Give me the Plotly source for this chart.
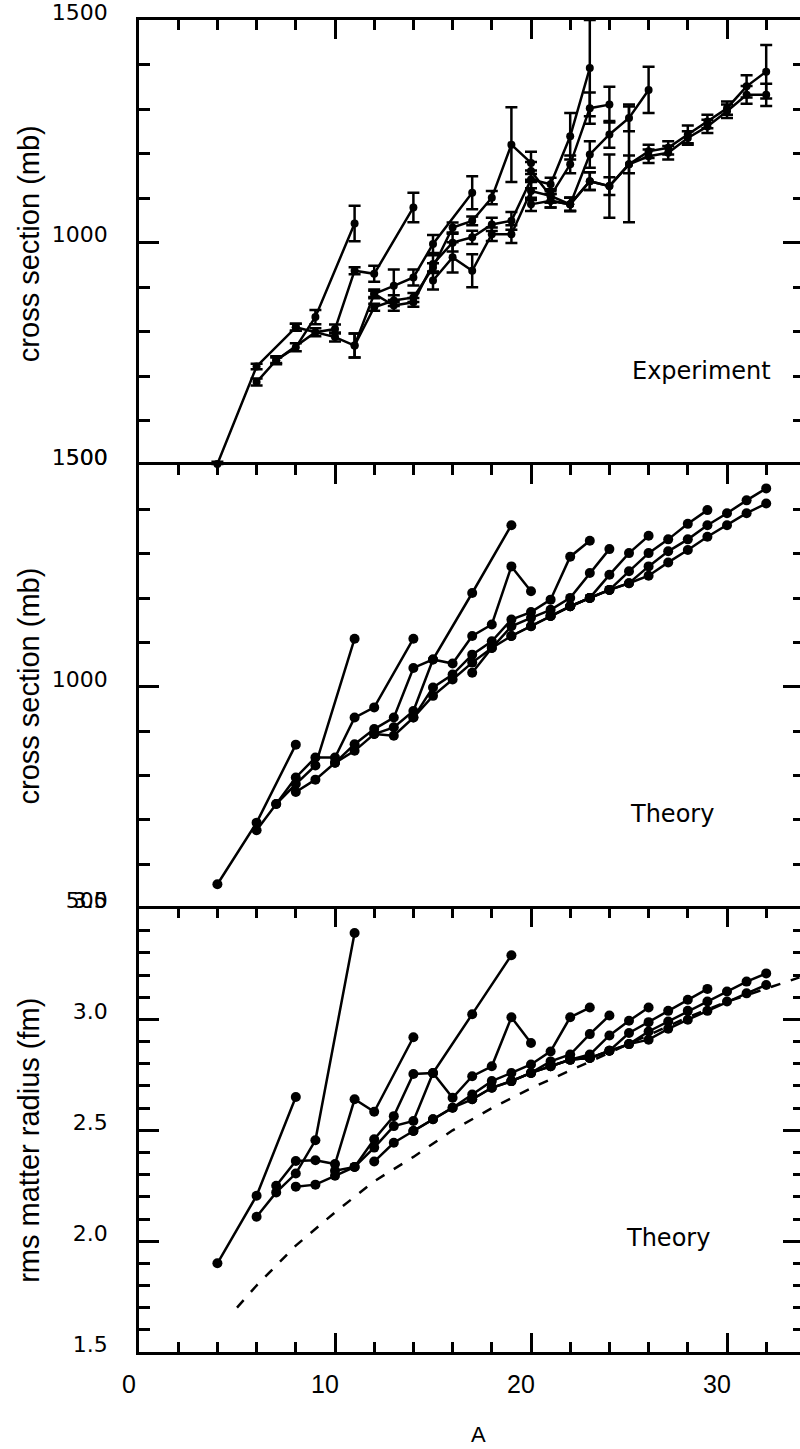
import plotly.graph_objects as go

# ---------------- Experiment (interaction cross sections, mb) ----------------
EXP_HE_A = [4, 6, 8];            EXP_HE_S = [503, 722, 810];            EXP_HE_E = [5, 6, 8]
EXP_LI_A = [6, 7, 8, 9, 11];     EXP_LI_S = [687, 736, 765, 833, 1043]; EXP_LI_E = [8, 6, 9, 16, 40]
EXP_BE_A = [7, 9, 10, 11, 12, 14]
EXP_BE_S = [736, 799, 806, 937, 930, 1079]
EXP_BE_E = [9, 9, 10, 8, 18, 33]
EXP_B_A = [8, 10, 11, 12, 13, 14, 15, 17]
EXP_B_S = [810, 788, 769, 885, 903, 922, 997, 1112]
EXP_B_E = [8, 10, 27, 7, 37, 18, 20, 37]
EXP_C_A = [11, 12, 13, 14, 15, 16, 17, 18, 19, 20]
EXP_C_S = [769, 855, 870, 877, 944, 1034, 1049, 1101, 1220, 1179]
EXP_C_E = [27, 8, 12, 10, 10, 11, 10, 15, 84, 25]
EXP_N_A = [12, 13, 14, 15, 16, 17, 18, 19, 20, 21, 22, 23]
EXP_N_S = [885, 859, 866, 952, 1000, 1012, 1041, 1049, 1142, 1131, 1239, 1392]
EXP_N_E = [10, 12, 10, 20, 20, 15, 15, 20, 20, 15, 52, 108]
EXP_O_A = [15, 16, 17, 18, 19, 20, 21, 22, 23, 24]
EXP_O_S = [915, 967, 937, 1019, 1019, 1116, 1105, 1176, 1302, 1310]
EXP_O_E = [20, 34, 37, 15, 20, 20, 15, 20, 35, 40]
EXP_F_A = [20, 21, 22, 23, 24, 25, 26]
EXP_F_S = [1161, 1105, 1086, 1198, 1243, 1280, 1343]
EXP_F_E = [20, 15, 15, 30, 30, 30, 52]
EXP_NE_A = [20, 21, 22, 23, 24, 25, 26, 27, 28, 29, 30, 31, 32]
EXP_NE_S = [1086, 1094, 1086, 1138, 1127, 1176, 1205, 1213, 1243, 1272, 1302, 1351, 1384]
EXP_NE_E = [15, 15, 15, 20, 71, 20, 15, 15, 20, 15, 15, 25, 60]
EXP_NA_A = [21, 22, 23, 24, 25, 26, 27, 28, 29, 30, 31, 32]
EXP_NA_S = [1094, 1086, 1138, 1127, 1176, 1194, 1202, 1235, 1261, 1295, 1332, 1332]
EXP_NA_E = [15, 15, 20, 20, 130, 15, 15, 15, 15, 15, 20, 25]

# ---------------- Theory (cross sections, mb) ----------------
TH_HE_A = [4, 6, 8];                  TH_HE_S = [555, 694, 870]
TH_LI_A = [6, 7, 8, 9, 11];           TH_LI_S = [677, 736, 781, 823, 1109]
TH_BE_A = [7, 8, 9, 10, 11, 12, 14];  TH_BE_S = [736, 796, 841, 841, 931, 954, 1109]
TH_B_A = [8, 9, 10, 11, 12, 13, 14, 15, 17, 19]
TH_B_S = [763, 791, 829, 871, 905, 931, 1043, 1062, 1212, 1365]
TH_C_A = [10, 11, 12, 13, 14, 15, 16, 17, 18, 19, 20]
TH_C_S = [829, 856, 894, 909, 946, 1062, 1053, 1115, 1141, 1272, 1216]
TH_N_A = [12, 13, 14, 15, 16, 17, 18, 19, 20, 21, 22, 23]
TH_N_S = [894, 890, 931, 999, 1028, 1073, 1103, 1152, 1169, 1197, 1294, 1330]
TH_O_A = [14, 15, 16, 17, 18, 19, 20, 21, 22, 23, 24]
TH_O_S = [931, 980, 1017, 1055, 1088, 1137, 1156, 1174, 1201, 1257, 1311]
TH_F_A = [17, 18, 19, 20, 21, 22, 23, 24, 25, 26]
TH_F_S = [1032, 1088, 1115, 1137, 1160, 1182, 1201, 1253, 1302, 1341]
TH_NE_A = [19, 20, 21, 22, 23, 24, 25, 26, 27, 28, 29]
TH_NE_S = [1115, 1137, 1160, 1182, 1201, 1219, 1261, 1302, 1333, 1368, 1399]
TH_NA_A = [21, 22, 23, 24, 25, 26, 27, 28, 29, 30, 31, 32]
TH_NA_S = [1160, 1182, 1201, 1219, 1234, 1272, 1306, 1333, 1365, 1392, 1421, 1448]
TH_MG_A = [22, 23, 24, 25, 26, 27, 28, 29, 30, 31, 32]
TH_MG_S = [1182, 1201, 1219, 1234, 1251, 1281, 1309, 1339, 1365, 1392, 1414]

# ---------------- Theory (rms matter radius, fm) ----------------
R_HE_A = [4, 6, 8];                  R_HE = [1.90, 2.205, 2.65]
R_LI_A = [6, 7, 8, 9, 11];           R_LI = [2.11, 2.22, 2.305, 2.455, 3.39]
R_BE_A = [7, 8, 9, 10, 11, 12, 14];  R_BE = [2.25, 2.362, 2.365, 2.348, 2.64, 2.584, 2.92]
R_B_A = [8, 9, 10, 11, 12, 13, 14, 15, 17, 19]
R_B = [2.246, 2.255, 2.295, 2.335, 2.46, 2.564, 2.754, 2.759, 3.024, 3.29]
R_C_A = [10, 11, 12, 13, 14, 15, 16, 17, 18, 19, 20]
R_C = [2.318, 2.335, 2.422, 2.519, 2.542, 2.759, 2.647, 2.744, 2.789, 3.01, 2.894]
R_N_A = [12, 13, 14, 15, 16, 17, 18, 19, 20, 21, 22, 23]
R_N = [2.359, 2.444, 2.497, 2.55, 2.602, 2.662, 2.722, 2.759, 2.797, 2.856, 3.01, 3.054]
R_O_A = [14, 15, 16, 17, 18, 19, 20, 21, 22, 23, 24]
R_O = [2.497, 2.55, 2.602, 2.64, 2.692, 2.722, 2.759, 2.811, 2.842, 2.934, 3.018]
R_F_A = [17, 18, 19, 20, 21, 22, 23, 24, 25, 26]
R_F = [2.64, 2.692, 2.722, 2.759, 2.789, 2.819, 2.842, 2.928, 2.994, 3.054]
R_NE_A = [19, 20, 21, 22, 23, 24, 25, 26, 27, 28, 29]
R_NE = [2.722, 2.759, 2.789, 2.819, 2.826, 2.859, 2.939, 2.988, 3.039, 3.089, 3.138]
R_NA_A = [21, 22, 23, 24, 25, 26, 27, 28, 29, 30, 31, 32]
R_NA = [2.789, 2.819, 2.826, 2.859, 2.889, 2.946, 2.991, 3.039, 3.081, 3.126, 3.171, 3.208]
R_MG_A = [22, 23, 24, 25, 26, 27, 28, 29, 30, 31, 32]
R_MG = [2.819, 2.826, 2.859, 2.889, 2.909, 2.958, 2.999, 3.039, 3.081, 3.118, 3.156]

# dashed reference curve
DASH_A = [5, 6, 8, 10, 12, 14, 16, 18, 20, 22, 24, 26, 28, 30, 32, 33.7]
DASH_R = [1.70, 1.80, 1.98, 2.13, 2.27, 2.38, 2.50, 2.60, 2.69, 2.77, 2.85, 2.93, 3.01, 3.08, 3.14, 3.19]

EXP_CHAINS = [(EXP_HE_A, EXP_HE_S, EXP_HE_E), (EXP_LI_A, EXP_LI_S, EXP_LI_E),
              (EXP_BE_A, EXP_BE_S, EXP_BE_E), (EXP_B_A, EXP_B_S, EXP_B_E),
              (EXP_C_A, EXP_C_S, EXP_C_E), (EXP_N_A, EXP_N_S, EXP_N_E),
              (EXP_O_A, EXP_O_S, EXP_O_E), (EXP_F_A, EXP_F_S, EXP_F_E),
              (EXP_NE_A, EXP_NE_S, EXP_NE_E), (EXP_NA_A, EXP_NA_S, EXP_NA_E)]
TH_CHAINS = [(TH_HE_A, TH_HE_S), (TH_LI_A, TH_LI_S), (TH_BE_A, TH_BE_S), (TH_B_A, TH_B_S),
             (TH_C_A, TH_C_S), (TH_N_A, TH_N_S), (TH_O_A, TH_O_S), (TH_F_A, TH_F_S),
             (TH_NE_A, TH_NE_S), (TH_NA_A, TH_NA_S), (TH_MG_A, TH_MG_S)]
R_CHAINS = [(R_HE_A, R_HE), (R_LI_A, R_LI), (R_BE_A, R_BE), (R_B_A, R_B), (R_C_A, R_C),
            (R_N_A, R_N), (R_O_A, R_O), (R_F_A, R_F), (R_NE_A, R_NE), (R_NA_A, R_NA),
            (R_MG_A, R_MG)]

fig = go.Figure()

for a, s, e in EXP_CHAINS:
    fig.add_trace(go.Scatter(
        x=a, y=s, mode="lines+markers", xaxis="x", yaxis="y",
        line=dict(color="black", width=2.5), marker=dict(color="black", size=8),
        error_y=dict(type="data", array=e, width=6, thickness=2.5, color="black"),
        cliponaxis=False, showlegend=False, hoverinfo="skip"))

for a, s in TH_CHAINS:
    fig.add_trace(go.Scatter(
        x=a, y=s, mode="lines+markers", xaxis="x2", yaxis="y2",
        line=dict(color="black", width=2.5), marker=dict(color="black", size=10),
        cliponaxis=False, showlegend=False, hoverinfo="skip"))

for a, r in R_CHAINS:
    fig.add_trace(go.Scatter(
        x=a, y=r, mode="lines+markers", xaxis="x3", yaxis="y3",
        line=dict(color="black", width=2.5), marker=dict(color="black", size=10),
        cliponaxis=False, showlegend=False, hoverinfo="skip"))

fig.add_trace(go.Scatter(
    x=DASH_A, y=DASH_R, mode="lines", xaxis="x3", yaxis="y3",
    line=dict(color="black", width=2.5, dash="10px,11px"),
    showlegend=False, hoverinfo="skip"))

# dummy traces so the right-hand tick axes are drawn
for ya, xa in (("y4", "x"), ("y5", "x2"), ("y6", "x3")):
    fig.add_trace(go.Scatter(x=[None], y=[None], xaxis=xa, yaxis=ya,
                             showlegend=False, hoverinfo="skip"))

W, H = 800, 1449
L, R, T, B = 139, 0, 15, 97
PH = H - T - B
XMAX = (W - L - R) / 19.6
d3 = 445 / PH
d2 = 890 / PH

XR = [0, XMAX]


def xaxis(anchor, side, labels, mirror=False):
    return dict(
        anchor=anchor, side=side, range=XR, domain=[0, 1],
        tickmode="linear", tick0=0, dtick=10,
        ticks="inside", ticklen=19, tickwidth=2.5, tickcolor="black",
        minor=dict(ticks="inside", tick0=0, dtick=2, ticklen=10, tickwidth=2.5,
                   tickcolor="black", showgrid=False),
        showline=True, linewidth=2.5, linecolor="black", mirror=mirror,
        showgrid=False, zeroline=False, showticklabels=labels,
        tickfont=dict(family="Liberation Sans", size=25, color="black"),
        ticklabelstandoff=8, ticklabelshift=-10, ticklabeloverflow="allow")


def yaxis(anchor, domain, rng, dtick, mdtick, fmt=""):
    return dict(
        anchor=anchor, domain=domain, range=rng,
        tickmode="linear", tick0=rng[0], dtick=dtick, tickformat=fmt,
        ticks="inside", ticklen=20, tickwidth=2.5, tickcolor="black",
        minor=dict(ticks="inside", tick0=rng[0], dtick=mdtick, ticklen=11,
                   tickwidth=2.5, tickcolor="black", showgrid=False),
        showline=True, linewidth=2.5, linecolor="black",
        showgrid=False, zeroline=False,
        tickfont=dict(family="DejaVu Sans", size=22, color="black"),
        ticklabelstandoff=24, ticklabelshift=-8, ticklabeloverflow="allow")


def rightaxis(over, rng, dtick, mdtick):
    return dict(
        overlaying=over, side="right", range=rng,
        tickmode="linear", tick0=rng[0], dtick=dtick,
        ticks="inside", ticklen=17, tickwidth=2.5, tickcolor="black",
        minor=dict(ticks="inside", tick0=rng[0], dtick=mdtick, ticklen=7,
                   tickwidth=2.5, tickcolor="black", showgrid=False),
        showline=False, showgrid=False, zeroline=False, showticklabels=False)


fig.update_layout(
    width=W, height=H,
    margin=dict(l=L, r=R, t=T, b=B, pad=0),
    paper_bgcolor="white", plot_bgcolor="white",
    xaxis=xaxis("y", "top", False),
    xaxis2=xaxis("y2", "top", False),
    xaxis3=xaxis("y3", "bottom", True, mirror="ticks"),
    yaxis=yaxis("x", [d2, 1], [500, 1500], 500, 100),
    yaxis2=yaxis("x2", [d3, d2], [500, 1500], 500, 100),
    yaxis3=yaxis("x3", [0, d3], [1.5, 3.5], 0.5, 0.1, ".1f"),
    yaxis4=rightaxis("y", [500, 1500], 500, 100),
    yaxis5=rightaxis("y2", [500, 1500], 500, 100),
    yaxis6=rightaxis("y3", [1.5, 3.5], 0.5, 0.1),
    showlegend=False,
)


def px_to_paper(px, py):
    return (px - L) / (W - L - R), (H - B - py) / PH


anns = []
for text, (px, py) in (("Experiment", (701, 367)), ("Theory", (672, 812)),
                       ("Theory", (668, 1238))):
    x, y = px_to_paper(px, py)
    anns.append(dict(text=text, x=x, y=y, xref="paper", yref="paper",
                     xanchor="center", yanchor="middle", showarrow=False,
                     font=dict(family="DejaVu Sans", size=24, color="black")))

for text, py in (("cross section (mb)", 240), ("cross section (mb)", 684),
                 ("rms matter radius (fm)", 1140)):
    x, y = px_to_paper(29, py)
    anns.append(dict(text=text, x=x, y=y, xref="paper", yref="paper", textangle=-90,
                     xanchor="center", yanchor="middle", showarrow=False,
                     font=dict(family="Liberation Sans", size=29, color="black")))

x, y = px_to_paper(478, 1435)
anns.append(dict(text="A", x=x, y=y, xref="paper", yref="paper",
                 xanchor="center", yanchor="middle", showarrow=False,
                 font=dict(family="Liberation Sans", size=22, color="black")))

fig.update_layout(annotations=anns)

fig.write_html("out.html", config={"displayModeBar": False},
               post_script="document.body.style.margin='0';")
